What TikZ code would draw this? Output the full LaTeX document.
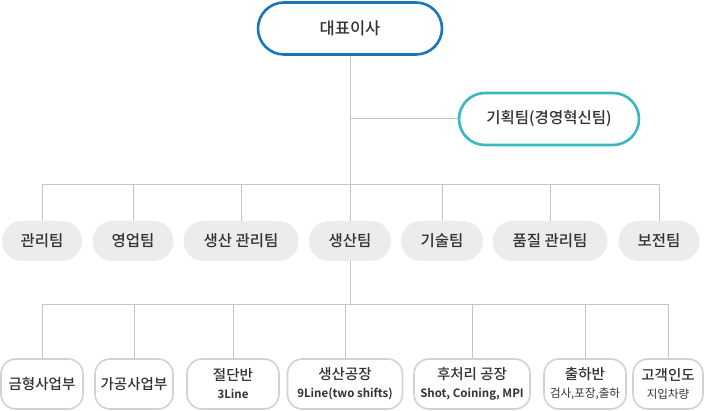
\documentclass[tikz,border=0pt]{standalone}
\usepackage{fontspec}
\setmainfont{Noto Sans CJK KR}[UprightFont={* Medium},BoldFont={* Bold}]
\newfontfamily\lightkr{Noto Sans CJK KR}
\usetikzlibrary{positioning}
\definecolor{ceoblue}{HTML}{1A75BB}
\definecolor{planteal}{HTML}{3AB7BF}
\definecolor{teamgray}{HTML}{ECECEC}
\definecolor{linegray}{HTML}{C4C4C4}
\definecolor{boxgray}{HTML}{D2D2D2}
\definecolor{txtgray}{HTML}{333333}
\tikzset{
  conn/.style={draw=linegray,line width=1pt},
  topbox/.style={draw,line width=2.6pt,fill=white,rounded corners=26pt,minimum height=52pt,text=txtgray},
  teambox/.style={fill=teamgray,rounded corners=20pt,minimum height=40pt,text=txtgray,font=\fontsize{15.5}{18}\selectfont},
  unitbox/.style={draw=boxgray,line width=1.6pt,fill=white,rounded corners=15pt,minimum height=50pt,align=center,text=txtgray,font=\fontsize{14.5}{17}\selectfont}
}
\newcommand\subline[1]{{\fontsize{11.5}{13}\selectfont\bfseries #1}}
\newcommand\sublight[1]{{\fontsize{11.5}{13}\selectfont\lightkr #1}}
\begin{document}
\begin{tikzpicture}[x=1pt,y=-1pt,inner sep=0pt]
\path[use as bounding box] (0,0) rectangle (710,411);
\node[topbox,draw=ceoblue,minimum width=184pt,font=\fontsize{16.5}{18}\selectfont] (ceo) at (350,28.5) {대표이사};
\node[topbox,draw=planteal,minimum width=180pt,font=\fontsize{15.5}{18}\selectfont] (plan) at (549,119) {기획팀(경영혁신팀)};
\node[teambox,minimum width=80pt] (admin) at (42,241) {관리팀};
\node[teambox,minimum width=81pt] (sales) at (133,241) {영업팀};
\node[teambox,minimum width=115pt] (prodadmin) at (241,241) {생산 관리팀};
\node[teambox,minimum width=82pt] (prod) at (350,241) {생산팀};
\node[teambox,minimum width=82pt] (tech) at (442,241) {기술팀};
\node[teambox,minimum width=115pt] (quality) at (550,241) {품질 관리팀};
\node[teambox,minimum width=81pt] (maint) at (659,241) {보전팀};
\node[unitbox,minimum width=82pt] (mold) at (42,384) {금형사업부};
\node[unitbox,minimum width=78pt] (machining) at (134,384) {가공사업부};
\node[unitbox,minimum width=92pt] (cutting) at (233,384) {절단반\\[1pt]\subline{3Line}};
\node[unitbox,minimum width=115pt] (factory) at (345,384) {생산공장\\[1pt]\subline{9Line(two shifts)}};
\node[unitbox,minimum width=116pt] (post) at (472,384) {후처리 공장\\[1pt]\subline{Shot, Coining, MPI}};
\node[unitbox,minimum width=82pt] (shipping) at (585,384) {출하반\\[1pt]\sublight{검사,포장,출하}};
\node[unitbox,minimum width=70pt] (delivery) at (668,384) {고객인도\\[1pt]\sublight{지입차량}};
\coordinate (teambar) at (350,185);
\coordinate (unitbar) at (350,305);
\draw[conn] (ceo.south) -- (prod.north);
\draw[conn] (ceo.south |- plan.west) -- (plan.west);
\foreach \t in {admin,sales,prodadmin,tech,quality,maint}
  \draw[conn] (\t.north) |- (teambar);
\draw[conn] (prod.south) -- (unitbar);
\foreach \u in {mold,machining,cutting,factory,post,shipping,delivery}
  \draw[conn] (\u.north) |- (unitbar);
\end{tikzpicture}
\end{document}
